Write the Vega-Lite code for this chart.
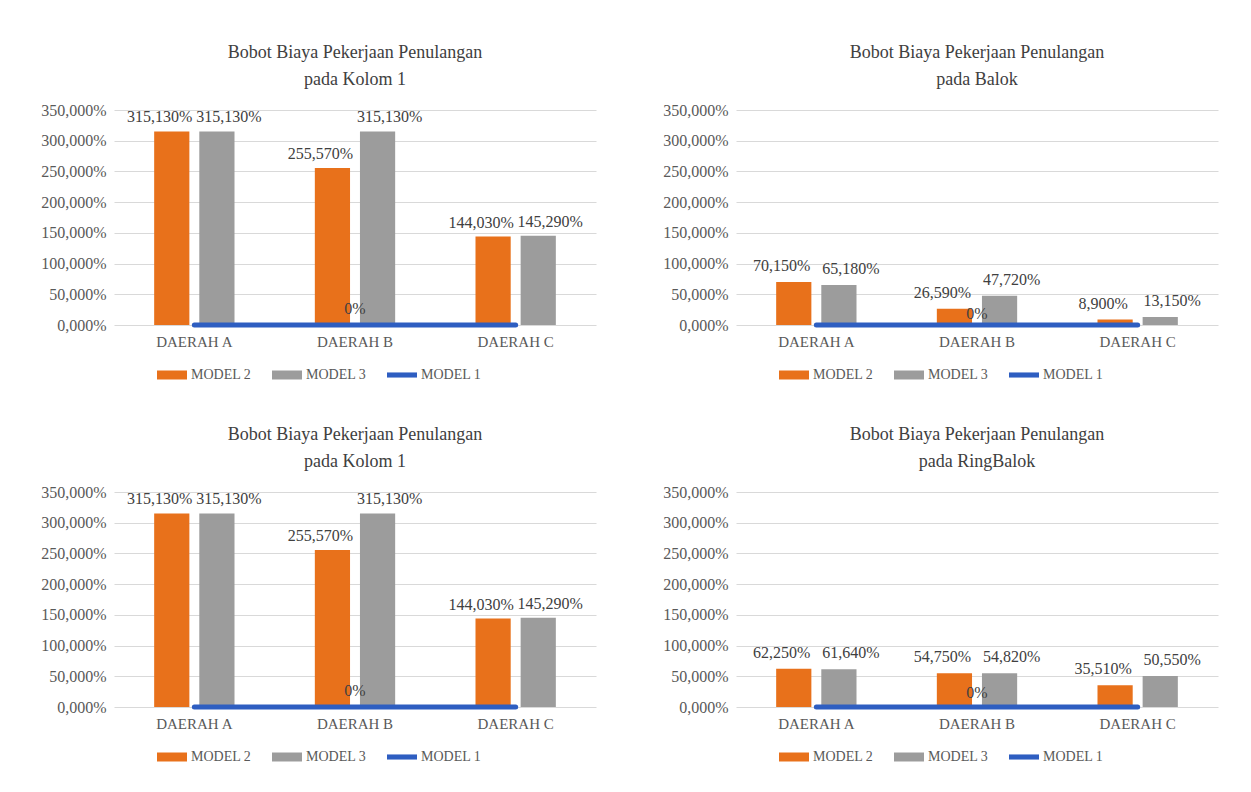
{
  "$schema": "https://vega.github.io/schema/vega-lite/v6.json",
  "background": "white",
  "padding": {"left": 40, "top": 44, "right": 5, "bottom": 5},
  "datasets": {
    "bobot": [
      {"chart": "Kolom 1 (1)", "region": "DAERAH A", "model": "MODEL 2", "value": 3.1513},
      {"chart": "Kolom 1 (1)", "region": "DAERAH A", "model": "MODEL 3", "value": 3.1513},
      {"chart": "Kolom 1 (1)", "region": "DAERAH A", "model": "MODEL 1", "value": 0},
      {"chart": "Kolom 1 (1)", "region": "DAERAH B", "model": "MODEL 2", "value": 2.5557},
      {"chart": "Kolom 1 (1)", "region": "DAERAH B", "model": "MODEL 3", "value": 3.1513},
      {"chart": "Kolom 1 (1)", "region": "DAERAH B", "model": "MODEL 1", "value": 0},
      {"chart": "Kolom 1 (1)", "region": "DAERAH C", "model": "MODEL 2", "value": 1.4403},
      {"chart": "Kolom 1 (1)", "region": "DAERAH C", "model": "MODEL 3", "value": 1.4529},
      {"chart": "Kolom 1 (1)", "region": "DAERAH C", "model": "MODEL 1", "value": 0},
      {"chart": "Balok", "region": "DAERAH A", "model": "MODEL 2", "value": 0.7015},
      {"chart": "Balok", "region": "DAERAH A", "model": "MODEL 3", "value": 0.6518},
      {"chart": "Balok", "region": "DAERAH A", "model": "MODEL 1", "value": 0},
      {"chart": "Balok", "region": "DAERAH B", "model": "MODEL 2", "value": 0.2659},
      {"chart": "Balok", "region": "DAERAH B", "model": "MODEL 3", "value": 0.4772},
      {"chart": "Balok", "region": "DAERAH B", "model": "MODEL 1", "value": 0},
      {"chart": "Balok", "region": "DAERAH C", "model": "MODEL 2", "value": 0.089},
      {"chart": "Balok", "region": "DAERAH C", "model": "MODEL 3", "value": 0.1315},
      {"chart": "Balok", "region": "DAERAH C", "model": "MODEL 1", "value": 0},
      {"chart": "Kolom 1 (2)", "region": "DAERAH A", "model": "MODEL 2", "value": 3.1513},
      {"chart": "Kolom 1 (2)", "region": "DAERAH A", "model": "MODEL 3", "value": 3.1513},
      {"chart": "Kolom 1 (2)", "region": "DAERAH A", "model": "MODEL 1", "value": 0},
      {"chart": "Kolom 1 (2)", "region": "DAERAH B", "model": "MODEL 2", "value": 2.5557},
      {"chart": "Kolom 1 (2)", "region": "DAERAH B", "model": "MODEL 3", "value": 3.1513},
      {"chart": "Kolom 1 (2)", "region": "DAERAH B", "model": "MODEL 1", "value": 0},
      {"chart": "Kolom 1 (2)", "region": "DAERAH C", "model": "MODEL 2", "value": 1.4403},
      {"chart": "Kolom 1 (2)", "region": "DAERAH C", "model": "MODEL 3", "value": 1.4529},
      {"chart": "Kolom 1 (2)", "region": "DAERAH C", "model": "MODEL 1", "value": 0},
      {"chart": "RingBalok", "region": "DAERAH A", "model": "MODEL 2", "value": 0.6225},
      {"chart": "RingBalok", "region": "DAERAH A", "model": "MODEL 3", "value": 0.6164},
      {"chart": "RingBalok", "region": "DAERAH A", "model": "MODEL 1", "value": 0},
      {"chart": "RingBalok", "region": "DAERAH B", "model": "MODEL 2", "value": 0.5475},
      {"chart": "RingBalok", "region": "DAERAH B", "model": "MODEL 3", "value": 0.5482},
      {"chart": "RingBalok", "region": "DAERAH B", "model": "MODEL 1", "value": 0},
      {"chart": "RingBalok", "region": "DAERAH C", "model": "MODEL 2", "value": 0.3551},
      {"chart": "RingBalok", "region": "DAERAH C", "model": "MODEL 3", "value": 0.5055},
      {"chart": "RingBalok", "region": "DAERAH C", "model": "MODEL 1", "value": 0}
    ]
  },
  "config": {
    "locale": {"number": {"decimal": ",", "thousands": ".", "grouping": [3], "currency": ["", ""]}},
    "font": "Liberation Serif",
    "view": {"stroke": null},
    "title": {"font": "Liberation Serif", "fontSize": 18, "fontWeight": "normal", "color": "#404040", "anchor": "middle", "offset": 13, "lineHeight": 27},
    "axis": {"labelFont": "Liberation Serif", "labelFontSize": 16, "labelColor": "#595959", "gridColor": "#D9D9D9", "gridWidth": 1, "domain": false, "ticks": false, "title": null},
    "legend": {"symbolSize": 900, "symbolStrokeWidth": 0, "symbolOpacity": 1, "labelFont": "Liberation Serif", "labelFontSize": 14, "labelColor": "#595959", "labelOffset": 4, "columnPadding": 20}
  },
  "spacing": 44,
  "resolve": {"scale": {"color": "independent", "shape": "independent", "xOffset": "independent"}},
  "vconcat": [
    {
      "spacing": 66,
      "resolve": {"scale": {"color": "independent", "shape": "independent", "xOffset": "independent"}},
      "hconcat": [
        {
          "width": 482, "height": 215,
          "title": {"text": ["Bobot Biaya Pekerjaan Penulangan", "pada Kolom 1"]},
          "data": {"name": "bobot"},
          "transform": [{"filter": "datum.chart === 'Kolom 1 (1)'"}],
          "encoding": {
            "x": {"field": "region", "type": "nominal", "sort": ["DAERAH A", "DAERAH B", "DAERAH C"], "scale": {"paddingInner": 0.5, "paddingOuter": 0.25}, "axis": {"labelAngle": 0, "labelPadding": 9, "labelFontSize": 15, "grid": false}},
            "y": {"field": "value", "type": "quantitative", "scale": {"domain": [0, 3.5], "nice": false}, "axis": {"values": [0, 0.5, 1, 1.5, 2, 2.5, 3, 3.5], "format": ".3%", "labelPadding": 8}}
          },
          "layer": [
            {"mark": {"type": "bar"}, "transform": [{"filter": "datum.model !== 'MODEL 1'"}],
             "encoding": {"xOffset": {"field": "model", "scale": {"domain": ["MODEL 2", "MODEL 3"], "paddingInner": 0.22, "paddingOuter": 0}},
               "color": {"field": "model", "type": "nominal", "scale": {"domain": ["MODEL 2", "MODEL 3", "MODEL 1"], "range": ["#E8711B", "#9C9C9C", "#2E5EC1"]}, "legend": {"orient": "none", "legendX": 43, "legendY": 250, "direction": "horizontal", "title": null}}}},
            {"mark": {"type": "line", "color": "#2E5EC1", "strokeWidth": 5, "strokeCap": "round"}, "transform": [{"filter": "datum.model === 'MODEL 1'"}], "encoding": {}},
            {"mark": {"type": "point", "filled": true, "opacity": 0},
             "encoding": {
               "color": {"field": "model", "type": "nominal", "scale": {"domain": ["MODEL 2", "MODEL 3", "MODEL 1"], "range": ["#E8711B", "#9C9C9C", "#2E5EC1"]}, "legend": {"orient": "none", "legendX": 43, "legendY": 250, "direction": "horizontal", "title": null}},
               "shape": {"field": "model", "type": "nominal", "scale": {"domain": ["MODEL 2", "MODEL 3", "MODEL 1"], "range": ["M-1,-0.3H1V0.3H-1Z", "M-1,-0.3H1V0.3H-1Z", "M-1,-0.17H1V0.17H-1Z"]}, "legend": {"orient": "none", "legendX": 43, "legendY": 250, "direction": "horizontal", "title": null}}}},
            {"mark": {"type": "text", "baseline": "bottom", "dy": -6, "dx": {"expr": "datum.model === 'MODEL 2' ? -12 : 12"}, "fontSize": 16, "color": "#404040"}, "transform": [{"filter": "datum.model !== 'MODEL 1'"}],
             "encoding": {"xOffset": {"field": "model", "scale": {"domain": ["MODEL 2", "MODEL 3"], "paddingInner": 0.22, "paddingOuter": 0}}, "text": {"field": "value", "type": "quantitative", "format": ".3%"}}},
            {"mark": {"type": "text", "baseline": "bottom", "dy": -8, "fontSize": 16, "color": "#404040"}, "transform": [{"filter": "datum.model === 'MODEL 1' && datum.region === 'DAERAH B'"}],
             "encoding": {"text": {"field": "value", "type": "quantitative", "format": ".0%"}}}
          ]
        },
        {
          "width": 482, "height": 215,
          "title": {"text": ["Bobot Biaya Pekerjaan Penulangan", "pada Balok"]},
          "data": {"name": "bobot"},
          "transform": [{"filter": "datum.chart === 'Balok'"}],
          "encoding": {
            "x": {"field": "region", "type": "nominal", "sort": ["DAERAH A", "DAERAH B", "DAERAH C"], "scale": {"paddingInner": 0.5, "paddingOuter": 0.25}, "axis": {"labelAngle": 0, "labelPadding": 9, "labelFontSize": 15, "grid": false}},
            "y": {"field": "value", "type": "quantitative", "scale": {"domain": [0, 3.5], "nice": false}, "axis": {"values": [0, 0.5, 1, 1.5, 2, 2.5, 3, 3.5], "format": ".3%", "labelPadding": 8}}
          },
          "layer": [
            {"mark": {"type": "bar"}, "transform": [{"filter": "datum.model !== 'MODEL 1'"}],
             "encoding": {"xOffset": {"field": "model", "scale": {"domain": ["MODEL 2", "MODEL 3"], "paddingInner": 0.22, "paddingOuter": 0}},
               "color": {"field": "model", "type": "nominal", "scale": {"domain": ["MODEL 2", "MODEL 3", "MODEL 1"], "range": ["#E8711B", "#9C9C9C", "#2E5EC1"]}, "legend": {"orient": "none", "legendX": 43, "legendY": 250, "direction": "horizontal", "title": null}}}},
            {"mark": {"type": "line", "color": "#2E5EC1", "strokeWidth": 5, "strokeCap": "round"}, "transform": [{"filter": "datum.model === 'MODEL 1'"}], "encoding": {}},
            {"mark": {"type": "point", "filled": true, "opacity": 0},
             "encoding": {
               "color": {"field": "model", "type": "nominal", "scale": {"domain": ["MODEL 2", "MODEL 3", "MODEL 1"], "range": ["#E8711B", "#9C9C9C", "#2E5EC1"]}, "legend": {"orient": "none", "legendX": 43, "legendY": 250, "direction": "horizontal", "title": null}},
               "shape": {"field": "model", "type": "nominal", "scale": {"domain": ["MODEL 2", "MODEL 3", "MODEL 1"], "range": ["M-1,-0.3H1V0.3H-1Z", "M-1,-0.3H1V0.3H-1Z", "M-1,-0.17H1V0.17H-1Z"]}, "legend": {"orient": "none", "legendX": 43, "legendY": 250, "direction": "horizontal", "title": null}}}},
            {"mark": {"type": "text", "baseline": "bottom", "dy": -8, "dx": {"expr": "datum.model === 'MODEL 2' ? -12 : 12"}, "fontSize": 16, "color": "#404040"}, "transform": [{"filter": "datum.model !== 'MODEL 1'"}],
             "encoding": {"xOffset": {"field": "model", "scale": {"domain": ["MODEL 2", "MODEL 3"], "paddingInner": 0.22, "paddingOuter": 0}}, "text": {"field": "value", "type": "quantitative", "format": ".3%"}}},
            {"mark": {"type": "text", "baseline": "bottom", "dy": -3, "fontSize": 16, "color": "#404040"}, "transform": [{"filter": "datum.model === 'MODEL 1' && datum.region === 'DAERAH B'"}],
             "encoding": {"text": {"field": "value", "type": "quantitative", "format": ".0%"}}}
          ]
        }
      ]
    },
    {
      "spacing": 66,
      "resolve": {"scale": {"color": "independent", "shape": "independent", "xOffset": "independent"}},
      "hconcat": [
        {
          "width": 482, "height": 215,
          "title": {"text": ["Bobot Biaya Pekerjaan Penulangan", "pada Kolom 1"]},
          "data": {"name": "bobot"},
          "transform": [{"filter": "datum.chart === 'Kolom 1 (2)'"}],
          "encoding": {
            "x": {"field": "region", "type": "nominal", "sort": ["DAERAH A", "DAERAH B", "DAERAH C"], "scale": {"paddingInner": 0.5, "paddingOuter": 0.25}, "axis": {"labelAngle": 0, "labelPadding": 9, "labelFontSize": 15, "grid": false}},
            "y": {"field": "value", "type": "quantitative", "scale": {"domain": [0, 3.5], "nice": false}, "axis": {"values": [0, 0.5, 1, 1.5, 2, 2.5, 3, 3.5], "format": ".3%", "labelPadding": 8}}
          },
          "layer": [
            {"mark": {"type": "bar"}, "transform": [{"filter": "datum.model !== 'MODEL 1'"}],
             "encoding": {"xOffset": {"field": "model", "scale": {"domain": ["MODEL 2", "MODEL 3"], "paddingInner": 0.22, "paddingOuter": 0}},
               "color": {"field": "model", "type": "nominal", "scale": {"domain": ["MODEL 2", "MODEL 3", "MODEL 1"], "range": ["#E8711B", "#9C9C9C", "#2E5EC1"]}, "legend": {"orient": "none", "legendX": 43, "legendY": 250, "direction": "horizontal", "title": null}}}},
            {"mark": {"type": "line", "color": "#2E5EC1", "strokeWidth": 5, "strokeCap": "round"}, "transform": [{"filter": "datum.model === 'MODEL 1'"}], "encoding": {}},
            {"mark": {"type": "point", "filled": true, "opacity": 0},
             "encoding": {
               "color": {"field": "model", "type": "nominal", "scale": {"domain": ["MODEL 2", "MODEL 3", "MODEL 1"], "range": ["#E8711B", "#9C9C9C", "#2E5EC1"]}, "legend": {"orient": "none", "legendX": 43, "legendY": 250, "direction": "horizontal", "title": null}},
               "shape": {"field": "model", "type": "nominal", "scale": {"domain": ["MODEL 2", "MODEL 3", "MODEL 1"], "range": ["M-1,-0.3H1V0.3H-1Z", "M-1,-0.3H1V0.3H-1Z", "M-1,-0.17H1V0.17H-1Z"]}, "legend": {"orient": "none", "legendX": 43, "legendY": 250, "direction": "horizontal", "title": null}}}},
            {"mark": {"type": "text", "baseline": "bottom", "dy": -6, "dx": {"expr": "datum.model === 'MODEL 2' ? -12 : 12"}, "fontSize": 16, "color": "#404040"}, "transform": [{"filter": "datum.model !== 'MODEL 1'"}],
             "encoding": {"xOffset": {"field": "model", "scale": {"domain": ["MODEL 2", "MODEL 3"], "paddingInner": 0.22, "paddingOuter": 0}}, "text": {"field": "value", "type": "quantitative", "format": ".3%"}}},
            {"mark": {"type": "text", "baseline": "bottom", "dy": -8, "fontSize": 16, "color": "#404040"}, "transform": [{"filter": "datum.model === 'MODEL 1' && datum.region === 'DAERAH B'"}],
             "encoding": {"text": {"field": "value", "type": "quantitative", "format": ".0%"}}}
          ]
        },
        {
          "width": 482, "height": 215,
          "title": {"text": ["Bobot Biaya Pekerjaan Penulangan", "pada RingBalok"]},
          "data": {"name": "bobot"},
          "transform": [{"filter": "datum.chart === 'RingBalok'"}],
          "encoding": {
            "x": {"field": "region", "type": "nominal", "sort": ["DAERAH A", "DAERAH B", "DAERAH C"], "scale": {"paddingInner": 0.5, "paddingOuter": 0.25}, "axis": {"labelAngle": 0, "labelPadding": 9, "labelFontSize": 15, "grid": false}},
            "y": {"field": "value", "type": "quantitative", "scale": {"domain": [0, 3.5], "nice": false}, "axis": {"values": [0, 0.5, 1, 1.5, 2, 2.5, 3, 3.5], "format": ".3%", "labelPadding": 8}}
          },
          "layer": [
            {"mark": {"type": "bar"}, "transform": [{"filter": "datum.model !== 'MODEL 1'"}],
             "encoding": {"xOffset": {"field": "model", "scale": {"domain": ["MODEL 2", "MODEL 3"], "paddingInner": 0.22, "paddingOuter": 0}},
               "color": {"field": "model", "type": "nominal", "scale": {"domain": ["MODEL 2", "MODEL 3", "MODEL 1"], "range": ["#E8711B", "#9C9C9C", "#2E5EC1"]}, "legend": {"orient": "none", "legendX": 43, "legendY": 250, "direction": "horizontal", "title": null}}}},
            {"mark": {"type": "line", "color": "#2E5EC1", "strokeWidth": 5, "strokeCap": "round"}, "transform": [{"filter": "datum.model === 'MODEL 1'"}], "encoding": {}},
            {"mark": {"type": "point", "filled": true, "opacity": 0},
             "encoding": {
               "color": {"field": "model", "type": "nominal", "scale": {"domain": ["MODEL 2", "MODEL 3", "MODEL 1"], "range": ["#E8711B", "#9C9C9C", "#2E5EC1"]}, "legend": {"orient": "none", "legendX": 43, "legendY": 250, "direction": "horizontal", "title": null}},
               "shape": {"field": "model", "type": "nominal", "scale": {"domain": ["MODEL 2", "MODEL 3", "MODEL 1"], "range": ["M-1,-0.3H1V0.3H-1Z", "M-1,-0.3H1V0.3H-1Z", "M-1,-0.17H1V0.17H-1Z"]}, "legend": {"orient": "none", "legendX": 43, "legendY": 250, "direction": "horizontal", "title": null}}}},
            {"mark": {"type": "text", "baseline": "bottom", "dy": -8, "dx": {"expr": "datum.model === 'MODEL 2' ? -12 : 12"}, "fontSize": 16, "color": "#404040"}, "transform": [{"filter": "datum.model !== 'MODEL 1'"}],
             "encoding": {"xOffset": {"field": "model", "scale": {"domain": ["MODEL 2", "MODEL 3"], "paddingInner": 0.22, "paddingOuter": 0}}, "text": {"field": "value", "type": "quantitative", "format": ".3%"}}},
            {"mark": {"type": "text", "baseline": "bottom", "dy": -6, "fontSize": 16, "color": "#404040"}, "transform": [{"filter": "datum.model === 'MODEL 1' && datum.region === 'DAERAH B'"}],
             "encoding": {"text": {"field": "value", "type": "quantitative", "format": ".0%"}}}
          ]
        }
      ]
    }
  ]
}
